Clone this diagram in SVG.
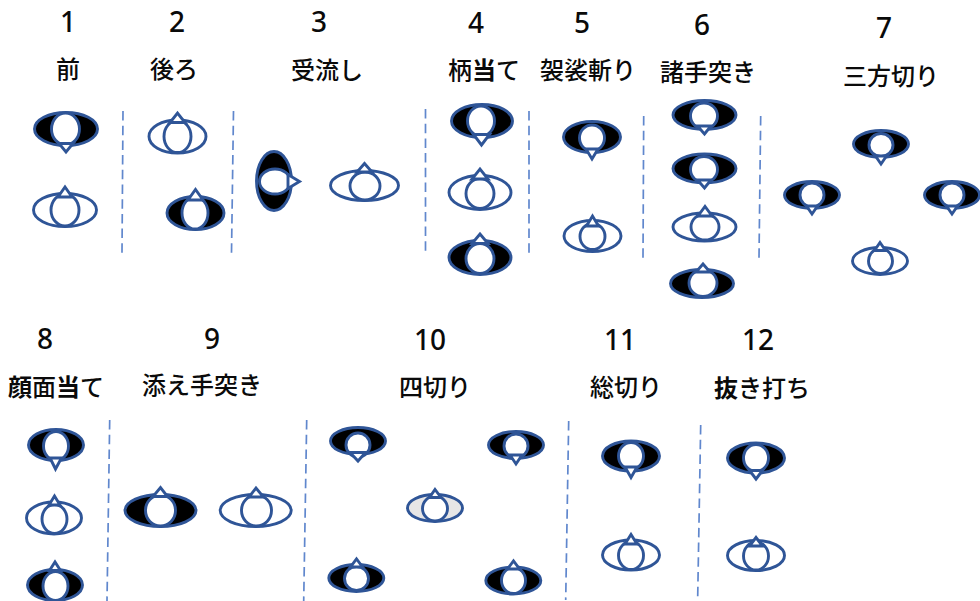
<svg xmlns="http://www.w3.org/2000/svg" width="980" height="601" viewBox="0 0 980 601">
<style>
.o{stroke:#2f5597;stroke-width:2.9}
.b{fill:#000}.w{fill:#fff}.g{fill:#e7e6e6}
.i,.t{fill:#fff;stroke:#2f5597;stroke-width:2.9}
.d{stroke:#4472c4;stroke-width:1.7;stroke-dasharray:9.500 5.200;fill:none;opacity:.85}
text{fill:#0a0a0a}
.n{font-family:"Noto Sans","Open Sans",sans-serif;font-size:28px;font-weight:500;text-anchor:middle}
.l{font-family:"Noto Sans CJK JP",sans-serif;font-size:24px;font-weight:500;text-anchor:middle}
.s{font-weight:700}
</style>
<rect width="980" height="601" fill="#fff"/>
<g id="connectors">
<path class="d" d="M123 111L122 253"/>
<path class="d" d="M233.500 111L231.500 253"/>
<path class="d" d="M425.500 109L425.500 251"/>
<path class="d" d="M529 111L529 253"/>
<path class="d" d="M643.700 116L643 258"/>
<path class="d" d="M760.700 116L759 258"/>
<path class="d" d="M109.700 420L107 601"/>
<path class="d" d="M306.700 420L303.700 601"/>
<path class="d" d="M568.700 421L565.700 600"/>
<path class="d" d="M700.700 425L697.700 597"/>
</g>
<g id="labels">
<text class="n" x="68" y="32">1</text><text class="n" x="177" y="32">2</text><text class="n" x="319" y="32">3</text><text class="n" x="476" y="33">4</text><text class="n" x="582" y="33">5</text><text class="n" x="702" y="35">6</text><text class="n" x="884" y="38">7</text>
<text class="n" x="45" y="349">8</text><text class="n" x="212" y="349">9</text><text class="n" x="430" y="350">10</text><text class="n" x="620" y="350">11</text><text class="n" x="758" y="350">12</text>
<text class="l" x="68" y="78">前</text><text class="l" x="174" y="78">後ろ</text><text class="l" x="327" y="79">受流し</text><text class="l" x="484" y="79">柄<tspan class="s">当</tspan>て</text><text class="l" x="588" y="79">袈裟斬り</text><text class="l" x="708" y="81">諸手突き</text><text class="l" x="891" y="85">三方切り</text>
<text class="l" x="56" y="396"><tspan class="s">顔</tspan>面<tspan class="s">当</tspan>て</text><text class="l" x="202" y="394">添え手突き</text><text class="l" x="435" y="396">四切り</text><text class="l" x="626" y="396">総切り</text><text class="l" x="762" y="397"><tspan class="s">抜</tspan>き打ち</text>
</g>
<g id="n1a"><ellipse class="o b" cx="66" cy="129" rx="31.500" ry="16.500"/><ellipse class="i" cx="65.500" cy="129" rx="14" ry="16"/><path class="t" d="M59 143.500H73L66 152Z"/></g>
<g id="n1b"><ellipse class="o w" cx="65" cy="210" rx="31.500" ry="16.500"/><ellipse class="i" cx="65" cy="210" rx="14" ry="16"/><path class="t" d="M58 197H72L65 187Z"/></g>
<g id="n2a"><ellipse class="o w" cx="177.500" cy="136.500" rx="28.500" ry="16.500"/><ellipse class="i" cx="177.500" cy="136.500" rx="13.500" ry="16"/><path class="t" d="M170 122.500H185L177.500 113Z"/></g>
<g id="n2b"><ellipse class="o b" cx="195.500" cy="213" rx="28.500" ry="16.500"/><ellipse class="i" cx="195" cy="213" rx="13" ry="16"/><path class="t" d="M188 200H203L195.500 189.500Z"/></g>
<g id="n3a"><ellipse class="o b" cx="274" cy="181" rx="17.500" ry="29.500"/><ellipse class="i" cx="275" cy="181.500" rx="15.500" ry="12.500"/><path class="t" d="M288 174.500V188.500L299.500 181.500Z"/></g>
<g id="n3b"><ellipse class="o w" cx="364.500" cy="185.500" rx="34" ry="15"/><ellipse class="i" cx="365" cy="186" rx="15" ry="14"/><path class="t" d="M357 172H372L364.500 163.500Z"/></g>
<g id="n4a"><ellipse class="o b" cx="482" cy="121" rx="30.500" ry="16.500"/><ellipse class="i" cx="481" cy="121" rx="13.500" ry="15"/><path class="t" d="M473.500 134.500H489.500L481.500 145Z"/></g>
<g id="n4b"><ellipse class="o w" cx="480" cy="192.500" rx="31" ry="17"/><ellipse class="i" cx="480" cy="193.500" rx="14" ry="15"/><path class="t" d="M472 179H488L480 169Z"/></g>
<g id="n4c"><ellipse class="o b" cx="480" cy="257.500" rx="31" ry="17"/><ellipse class="i" cx="480" cy="258.500" rx="14" ry="15"/><path class="t" d="M472 243.500H488L480 234Z"/></g>
<g id="n5a"><ellipse class="o b" cx="592" cy="137" rx="28.500" ry="15.500"/><ellipse class="i" cx="592" cy="138" rx="12.500" ry="13"/><path class="t" d="M586 149H598L592 159Z"/></g>
<g id="n5b"><ellipse class="o w" cx="592.500" cy="236" rx="28.500" ry="15.500"/><ellipse class="i" cx="592.500" cy="236.500" rx="12.500" ry="13"/><path class="t" d="M586.500 226H598.500L592.500 216Z"/></g>
<g id="n6a"><ellipse class="o b" cx="704.500" cy="115" rx="31.500" ry="14.500"/><ellipse class="i" cx="704" cy="116" rx="13.500" ry="13"/><path class="t" d="M697.500 126H711L704.500 134Z"/></g>
<g id="n6b"><ellipse class="o b" cx="704.500" cy="168.500" rx="31.500" ry="14.500"/><ellipse class="i" cx="704" cy="169.500" rx="13.500" ry="13"/><path class="t" d="M697.500 180H711L704.500 188Z"/></g>
<g id="n6c"><ellipse class="o w" cx="704.500" cy="227" rx="31.500" ry="14"/><ellipse class="i" cx="705" cy="227" rx="14" ry="13"/><path class="t" d="M698 216H712L705 206.500Z"/></g>
<g id="n6d"><ellipse class="o b" cx="702" cy="283.500" rx="31.500" ry="14"/><ellipse class="i" cx="703" cy="283" rx="14" ry="13.500"/><path class="t" d="M696 272H710L703 264Z"/></g>
<g id="n7a"><ellipse class="o b" cx="881" cy="144" rx="27.500" ry="13.500"/><ellipse class="i" cx="881" cy="145" rx="12" ry="11.500"/><path class="t" d="M875.500 156H886.500L881 164Z"/></g>
<g id="n7b"><ellipse class="o b" cx="812" cy="195" rx="27.500" ry="13.500"/><ellipse class="i" cx="812" cy="195" rx="12" ry="12"/><path class="t" d="M806.500 206H817.500L812 214Z"/></g>
<g id="n7c"><ellipse class="o b" cx="952" cy="195" rx="27.500" ry="13.500"/><ellipse class="i" cx="952" cy="195" rx="12" ry="12"/><path class="t" d="M946.500 206H957.500L952 214Z"/></g>
<g id="n7d"><ellipse class="o w" cx="880" cy="261" rx="27.500" ry="13.500"/><ellipse class="i" cx="880.500" cy="261" rx="12" ry="12.500"/><path class="t" d="M874.500 250.500H885.500L880 242.500Z"/></g>
<g id="n8a"><ellipse class="o b" cx="56" cy="445" rx="27.500" ry="15.500"/><ellipse class="i" cx="56" cy="446" rx="12.500" ry="14.500"/><path class="t" d="M50 458H61.500L55.500 469Z"/></g>
<g id="n8b"><ellipse class="o w" cx="54" cy="518" rx="27.500" ry="16"/><ellipse class="i" cx="54.500" cy="519" rx="12.500" ry="14.500"/><path class="t" d="M49 505H60L54.500 496Z"/></g>
<g id="n8c"><ellipse class="o b" cx="55" cy="585" rx="27.500" ry="15.500"/><ellipse class="i" cx="55.500" cy="586" rx="12.500" ry="14.500"/><path class="t" d="M49.500 570.500H60.500L55 562Z"/></g>
<g id="n9a"><ellipse class="o b" cx="160.500" cy="510.500" rx="35.500" ry="16"/><ellipse class="i" cx="160.500" cy="510.500" rx="15" ry="15.500"/><path class="t" d="M153 496.500H167.500L160.500 487.500Z"/></g>
<g id="n9b"><ellipse class="o w" cx="255.700" cy="510.500" rx="35.500" ry="16"/><ellipse class="i" cx="256.500" cy="510.500" rx="15" ry="15.500"/><path class="t" d="M249 497H263.500L256 488Z"/></g>
<g id="n10a"><ellipse class="o b" cx="358" cy="441" rx="27.500" ry="13.500"/><ellipse class="i" cx="358" cy="445" rx="12" ry="12"/><path class="t" d="M350 452.500H365.500L358 461Z"/></g>
<g id="n10b"><ellipse class="o b" cx="516" cy="445" rx="27.500" ry="13.500"/><ellipse class="i" cx="516" cy="446" rx="12" ry="12"/><path class="t" d="M510 455H522L516 464Z"/></g>
<g id="n10c"><ellipse class="o g" cx="435" cy="508" rx="27.500" ry="13.500"/><ellipse class="i" cx="435" cy="508.500" rx="12.500" ry="12.500"/><path class="t" d="M429.500 497.500H441L435 489.500Z"/></g>
<g id="n10d"><ellipse class="o b" cx="356.300" cy="578" rx="27.500" ry="13.500"/><ellipse class="i" cx="356.500" cy="578.500" rx="12" ry="12"/><path class="t" d="M350.500 567H362.500L356.500 559Z"/></g>
<g id="n10e"><ellipse class="o b" cx="513.300" cy="580.500" rx="27.500" ry="13.500"/><ellipse class="i" cx="513.500" cy="580.500" rx="12" ry="13"/><path class="t" d="M507.500 569H519.500L513.500 561Z"/></g>
<g id="n11a"><ellipse class="o b" cx="631" cy="456" rx="28.500" ry="15"/><ellipse class="i" cx="631" cy="456" rx="12.500" ry="13.500"/><path class="t" d="M625 467H637L631 477.500Z"/></g>
<g id="n11b"><ellipse class="o w" cx="631" cy="555" rx="28.500" ry="15"/><ellipse class="i" cx="631" cy="555.500" rx="12.500" ry="14"/><path class="t" d="M625 544H637L631 534.500Z"/></g>
<g id="n12a"><ellipse class="o b" cx="756" cy="458" rx="28.500" ry="15"/><ellipse class="i" cx="756" cy="458" rx="12.500" ry="13.500"/><path class="t" d="M749.500 470.500H762.500L756 479Z"/></g>
<g id="n12b"><ellipse class="o w" cx="756" cy="555.500" rx="28.500" ry="15"/><ellipse class="i" cx="756" cy="556" rx="12.500" ry="14"/><path class="t" d="M749.500 546H762.500L756 537.500Z"/></g>
</svg>
